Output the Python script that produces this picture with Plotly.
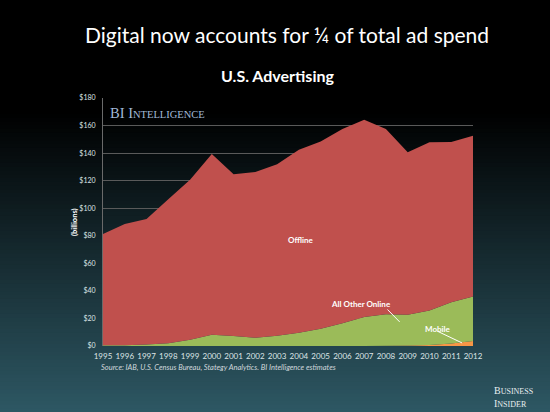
import plotly.graph_objects as go

years = list(range(1995, 2013))
total = [81.3, 88.6, 92.2, 106.5, 120.6, 139.3, 124.7, 126.2, 132.0, 142.4, 148.5,
         157.5, 164.3, 157.5, 140.7, 147.8, 148.0, 152.6]
online = [0.5, 0.6, 1.0, 2.0, 4.6, 8.2, 7.2, 6.0, 7.5, 9.6, 12.5, 16.6, 21.0, 23.1,
          22.6, 25.8, 31.8, 36.0]
mobile = [0, 0, 0, 0, 0, 0, 0, 0, 0, 0, 0, 0, 0, 0.1, 0.3, 0.8, 1.9, 3.6]

other_online = [o - m for o, m in zip(online, mobile)]
offline = [t - o for t, o in zip(total, online)]

y_ticks = list(range(0, 181, 20))
y_tick_labels = [f"${v}" for v in y_ticks]

fig = go.Figure()
fig.add_trace(go.Scatter(x=years, y=mobile, stackgroup="s", mode="none",
                         fillcolor="#F79646", name="Mobile"))
fig.add_trace(go.Scatter(x=years, y=other_online, stackgroup="s", mode="none",
                         fillcolor="#9BBB59", name="All Other Online"))
fig.add_trace(go.Scatter(x=years, y=offline, stackgroup="s", mode="none",
                         fillcolor="#C0504D", name="Offline"))

W, H = 550, 412
ml, mr, mt, mb = 103, 77, 98, 66
pw = W - ml - mr
ph = H - mt - mb


def px_x(px):
    return (px - ml) / pw


def px_y(py):
    return (H - mb - py) / ph


# background gradient (black top -> dark teal bottom)
shapes = []
n = 80
top_c = (0, 0, 0)
bot_c = (46, 88, 100)
start = 110
for i in range(n):
    y0px = start + (H - start) * i / n
    y1px = start + (H - start) * (i + 1) / n + 1
    f = (i + 0.5) / n
    c = tuple(int(top_c[k] + (bot_c[k] - top_c[k]) * f) for k in range(3))
    shapes.append(dict(type="rect", xref="paper", yref="paper",
                       x0=px_x(-10), x1=px_x(W + 10),
                       y0=px_y(y1px), y1=px_y(y0px),
                       fillcolor=f"rgb{c}", line_width=0, layer="below"))

# leader lines
shapes.append(dict(type="line", xref="x", yref="y", x0=2008.07, y0=26.5, x1=2008.63, y1=17.5,
                   line=dict(color="white", width=1)))
shapes.append(dict(type="line", xref="x", yref="y", x0=2010.37, y0=10.7, x1=2011.5, y1=2.2,
                   line=dict(color="white", width=1)))

annotations = [
    dict(text="Digital now accounts for ¼ of total ad spend", xref="paper", yref="paper",
         x=px_x(287), y=px_y(34), showarrow=False,
         font=dict(family="Lato", size=21, color="white"), xanchor="center", yanchor="middle"),
    dict(text="<b>U.S. Advertising</b>", xref="paper", yref="paper",
         x=px_x(277), y=px_y(75), showarrow=False,
         font=dict(family="Lato", size=16, color="white"), xanchor="center", yanchor="middle"),
    dict(text="BI I<span style='font-size:10.5px'>NTELLIGENCE</span>", xref="paper", yref="paper",
         x=px_x(108), y=px_y(113), showarrow=False, xanchor="left",
         yanchor="middle", font=dict(family="Liberation Serif", size=14.5, color="#a2bad8")),
    dict(text="<b>(billions)</b>", xref="paper", yref="paper",
         x=px_x(74), y=px_y(222), showarrow=False, textangle=-90,
         font=dict(family="Lato", size=7.5, color="white"), xanchor="center", yanchor="middle"),
    dict(text="<b>Offline</b>", x=2004.07, y=77, xref="x", yref="y", showarrow=False,
         font=dict(family="Lato", size=8, color="white")),
    dict(text="<b>All Other Online</b>", x=2006.87, y=30.4, xref="x", yref="y", showarrow=False,
         font=dict(family="Lato", size=8, color="white")),
    dict(text="<b>Mobile</b>", x=2010.4, y=12.4, xref="x", yref="y", showarrow=False,
         font=dict(family="Lato", size=8, color="white")),
    dict(text="<i>Source: IAB, U.S. Census Bureau, Stategy Analytics. BI Intelligence estimates</i>",
         xref="paper", yref="paper", x=px_x(99), y=px_y(367.5),
         showarrow=False, xanchor="left", yanchor="middle",
         font=dict(family="Lato", size=7.5, color="#d0d8dc")),
    dict(text="B<span style='font-size:8px'>USINESS</span><br>I<span style='font-size:8px'>NSIDER</span>",
         xref="paper", yref="paper", x=px_x(535), y=px_y(397),
         showarrow=False, xanchor="right", yanchor="middle", align="left",
         font=dict(family="Liberation Serif", size=10, color="#e8eef0")),
]

fig.update_layout(
    width=W, height=H,
    margin=dict(l=ml, r=mr, t=mt, b=mb),
    paper_bgcolor="black", plot_bgcolor="rgba(0,0,0,0)",
    showlegend=False,
    shapes=shapes, annotations=annotations,
    xaxis=dict(range=[1995, 2012], tickvals=years, ticktext=[str(y) for y in years],
               showgrid=False, zeroline=False, showline=False,
               tickfont=dict(family="Lato", size=8, color="#dde4e6"), ticks="",
               ticklabelstandoff=4),
    yaxis=dict(range=[0, 180], tickvals=y_ticks, ticktext=y_tick_labels,
               showgrid=True, gridcolor="#5a5a5a", gridwidth=1, zeroline=False,
               showline=True, linecolor="#6a6a6a", linewidth=1,
               tickfont=dict(family="Lato", size=7, color="#dde4e6"), ticks="",
               ticklabelstandoff=5),
)

fig.write_html("out.html")
